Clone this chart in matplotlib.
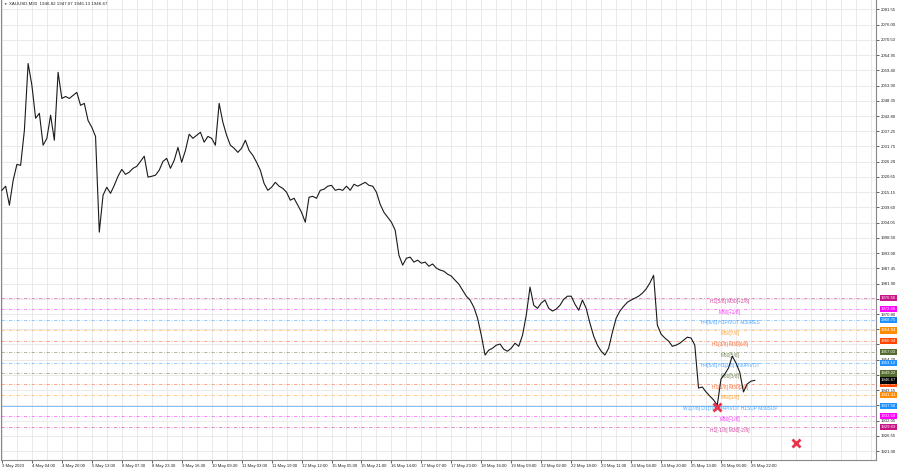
"""
XAUUSD M30 chart with Murrey-math style level lines (MT4 look).
"""

import numpy as np
import matplotlib
matplotlib.use("Agg")
import matplotlib.pyplot as plt

plt.rcParams["font.family"] = ["Liberation Sans", "DejaVu Sans"]

# --- data -------------------------------------------------------------
# closes, one point per 2 hours (4 bars of M30)
closes = [
    2015.8, 2017.3, 2010.4, 2019.4, 2025.2, 2024.9, 2037.6, 2061.9, 2054.0, 2042.0,
    2043.8, 2032.2, 2034.7, 2043.1, 2034.0, 2058.7, 2049.2, 2049.9, 2049.2, 2050.3,
    2051.4, 2046.7, 2047.4, 2041.2, 2038.7, 2035.4, 2000.6, 2014.0, 2016.9, 2014.7,
    2017.6, 2020.9, 2023.4, 2021.6, 2022.4, 2023.8, 2024.5, 2026.3, 2028.2, 2020.6,
    2020.9, 2021.3, 2023.1, 2026.3, 2027.4, 2023.8, 2026.7, 2031.4, 2026.0, 2030.3,
    2036.2, 2034.7, 2035.8, 2036.9, 2033.3, 2035.4, 2034.7, 2032.2, 2047.4, 2040.5,
    2035.8, 2032.2, 2031.1, 2029.6, 2031.1, 2034.0, 2030.3, 2028.5, 2026.0, 2023.1,
    2018.3, 2015.8, 2016.9, 2018.7, 2017.3, 2016.5, 2015.1, 2012.2, 2012.9, 2010.4,
    2007.8, 2004.2, 2013.3, 2013.6, 2012.9, 2015.8, 2016.2, 2017.3, 2017.6, 2015.8,
    2016.2, 2015.8, 2017.3, 2015.8, 2018.0, 2017.3, 2018.0, 2018.7, 2017.6, 2017.3,
    2015.1, 2010.7, 2007.8, 2006.0, 2004.2, 2001.3, 1992.2, 1988.6, 1991.1, 1991.5,
    1989.7, 1990.4, 1989.3, 1989.7, 1988.2, 1989.0, 1987.5, 1986.8, 1986.4, 1985.3,
    1984.6, 1983.1, 1981.7, 1979.5, 1977.3, 1975.9, 1973.3, 1969.3, 1963.1, 1955.9,
    1957.7, 1958.4, 1959.5, 1959.9, 1958.0, 1957.3, 1958.4, 1960.2, 1959.1, 1963.1,
    1970.4, 1980.6, 1974.0, 1972.9, 1974.8, 1975.9, 1972.9, 1971.9, 1972.6, 1974.0,
    1976.2, 1977.3, 1977.3, 1974.4, 1972.2, 1975.9, 1972.9, 1967.5, 1962.8, 1959.5,
    1957.3, 1955.9, 1958.4, 1964.2, 1969.3, 1971.9, 1973.6, 1975.1, 1975.9, 1976.6,
    1977.3, 1978.4, 1979.9, 1982.1, 1984.9, 1966.8, 1963.5, 1962.1, 1961.0, 1959.1,
    1959.5, 1960.2, 1961.3, 1962.4, 1962.1, 1959.5, 1943.9, 1944.3, 1942.5, 1941.0,
    1939.6, 1937.7, 1947.2, 1949.0, 1951.2, 1955.5, 1953.0, 1949.7, 1942.5, 1945.4,
    1946.4, 1946.7,
]

time_labels = [
    "3 May 2023", "4 May 04:00", "4 May 20:00", "5 May 13:00", "8 May 07:30",
    "8 May 23:30", "9 May 16:30", "10 May 09:30", "11 May 03:00", "11 May 19:00",
    "12 May 12:00", "15 May 05:00", "15 May 21:00", "16 May 14:00", "17 May 07:00",
    "17 May 23:00", "18 May 16:00", "19 May 09:00", "22 May 02:00", "22 May 18:00",
    "23 May 11:00", "24 May 04:00", "24 May 20:00", "25 May 13:00", "26 May 06:00",
    "26 May 22:00",
]

price_ticks = [
    2081.55, 2076.00, 2070.50, 2064.95, 2059.40, 2053.90, 2048.35, 2042.80,
    2037.25, 2031.75, 2026.20, 2020.65, 2015.15, 2009.60, 2004.05, 1998.50,
    1993.00, 1987.45, 1981.90, 1976.35, 1970.80, 1965.30, 1959.75, 1954.20,
    1948.65, 1943.15, 1937.60, 1932.05, 1926.55, 1921.00,
]
# tick labels that sit fully under a level box in the reference
hidden_ticks = [1976.35, 1965.30, 1959.75, 1948.65, 1937.60]

level_prices = [1976.56, 1972.66, 1968.75, 1964.84, 1960.94, 1957.03, 1953.12,
                1949.22, 1945.31, 1941.41, 1937.50, 1933.59, 1929.69]
level_names = [
    "H1[5/8] M30[+2/8]", "M30[+1/8]", "H4[6/8] H1PIVOT M30RES", "M30[7/8]",
    "H1[3/8] M30[6/8]", "M30[5/8]", "H4[5/8] H1[2/8] M30PIVOT", "M30[3/8]",
    "H1[1/8] M30[2/8]", "M30[1/8]", "W1[7/8] D1[7/8] H4PIVOT H1SUP M30SUP",
    "M30[-1/8]", "H1[-1/8] M30[-2/8]",
]

current_price = 1946.67
header = "XAUUSD,M30  1946.82 1947.07 1946.13 1946.67"

signal_x = [190.9, 212.0]
signal_price = [1936.9, 1923.9]

# --- styles -----------------------------------------------------------
MAGENTA_DK = "#C71585"
MAGENTA = "#FF00FF"
BLUE = "#1E90FF"
ORANGE = "#FF8C00"
RED_OR = "#FF4500"
OLIVE = "#556B2F"

LEVEL_COLORS = [MAGENTA_DK, MAGENTA, BLUE, ORANGE, RED_OR, OLIVE, BLUE,
                OLIVE, RED_OR, ORANGE, BLUE, MAGENTA, MAGENTA_DK]
DASH = (0, (4, 2, 1, 2))
LEVEL_STYLES = [DASH] * 10 + ["-"] + [DASH] * 2

fig = plt.figure(figsize=(9, 4.68), dpi=100)
ax = fig.add_axes([0.001, 0.017, 0.972, 0.982])

x = np.arange(len(closes))
ax.set_xlim(-0.27, 233.3)
ax.set_ylim(1917.73, 2084.82)

# grid
ax.set_yticks(price_ticks)
ax.set_yticklabels(["" if v in hidden_ticks else f"{v:.2f}" for v in price_ticks])
ax.set_xticks(np.arange(len(time_labels)) * 8)
ax.set_xticklabels(time_labels, ha="left")
ax.set_xticks(np.arange(0, 234, 4), minor=True)
ax.grid(True, which="both", color="#e6e6e6", lw=0.6)
ax.set_axisbelow(True)

ax.yaxis.tick_right()
ax.tick_params(axis="y", labelsize=3.1, length=2, pad=1.5, colors="#222222",
               width=0.5)
ax.tick_params(axis="x", labelsize=3.1, length=2, pad=1.0, colors="#222222",
               width=0.5)
ax.tick_params(which="minor", length=0)

for side in ["left", "right", "bottom"]:
    ax.spines[side].set_color("#888888")
    ax.spines[side].set_linewidth(0.8)
ax.spines["top"].set_visible(False)

# level lines, text and price boxes
trans = ax.get_yaxis_transform()
for p, name, c, ls in zip(level_prices, level_names, LEVEL_COLORS, LEVEL_STYLES):
    ax.axhline(p, color=c, lw=0.7 if ls == "-" else 0.6, ls=ls,
               alpha=0.55, zorder=1)
    ax.text(194.4, p - 0.2, name, color=c, fontsize=3.5, ha="center",
            va="top", alpha=0.8, zorder=2)
    ax.text(1.006, p, f"{p:.2f}", transform=trans, color="white",
            fontsize=3.1, ha="left", va="center", clip_on=False, zorder=5,
            bbox=dict(boxstyle="square,pad=0.25", fc=c, ec="none"))

ax.text(1.006, current_price, f"{current_price:.2f}", transform=trans,
        color="white", fontsize=3.1, ha="left", va="center", clip_on=False,
        zorder=6, bbox=dict(boxstyle="square,pad=0.25", fc="black", ec="none"))

# price
ax.plot(x, closes, color="#1a1a1a", lw=0.8, zorder=3)

# signals
ax.plot(signal_x, signal_price, ls="none", marker="x", ms=6, mew=2,
        color="#e8334a", zorder=4)

fig.text(3 / 900, 1 - 4 / 468, "\u25bc", fontsize=2.5, va="center",
         color="#333333")
fig.text(9 / 900, 1 - 4 / 468, header, fontsize=3.2, va="center",
         color="#222222")

fig.savefig("out.png", dpi=100, facecolor="white")
plt.close(fig)
